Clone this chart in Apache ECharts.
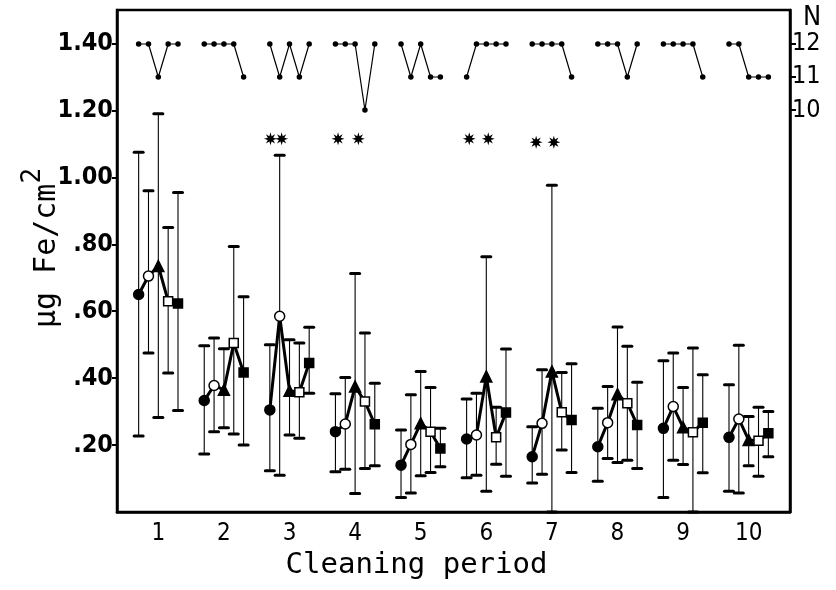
<!DOCTYPE html>
<html>
<head>
<meta charset="utf-8">
<script src="https://cdn.jsdelivr.net/npm/echarts@6/dist/echarts.min.js"></script>
<style>
html, body { margin: 0; background: #fff; }
#chart { width: 836px; height: 590px; }
</style>
</head>
<body>
<div id="chart"></div>
<script>
// cleaning periods (x axis)
const periods = [1, 2, 3, 4, 5, 6, 7, 8, 9, 10]
const yTicks = [0.2, 0.4, 0.6, 0.8, 1.0, 1.2, 1.4]
const nTicks = [10, 11, 12]

// five groups per period: filled circle, open circle, filled triangle, open square, filled square
const meanA = [0.65, 0.333, 0.305, 0.24, 0.14, 0.218, 0.165, 0.195, 0.25, 0.223]
const meanB = [0.705, 0.378, 0.585, 0.263, 0.202, 0.23, 0.265, 0.267, 0.315, 0.278]
const meanC = [0.735, 0.365, 0.362, 0.375, 0.265, 0.405, 0.42, 0.352, 0.253, 0.215]
const meanD = [0.63, 0.505, 0.358, 0.33, 0.24, 0.223, 0.298, 0.325, 0.238, 0.213]
const meanE = [0.623, 0.417, 0.445, 0.262, 0.19, 0.297, 0.275, 0.26, 0.267, 0.235]

// error bar ends
const hiA = [1.075, 0.497, 0.50, 0.353, 0.245, 0.338, 0.255, 0.31, 0.452, 0.38]
const loA = [0.227, 0.173, 0.123, 0.12, 0.043, 0.102, 0.087, 0.092, 0.043, 0.062]
const hiB = [0.96, 0.52, 1.066, 0.402, 0.35, 0.355, 0.425, 0.375, 0.475, 0.498]
const loB = [0.475, 0.24, 0.11, 0.128, 0.057, 0.11, 0.113, 0.16, 0.155, 0.057]
const hiC = [1.19, 0.488, 0.515, 0.713, 0.42, 0.763, 0.976, 0.553, 0.372, 0.285]
const loC = [0.282, 0.252, 0.23, 0.055, 0.108, 0.062, 0.0, 0.148, 0.142, 0.138]
const hiD = [0.85, 0.793, 0.505, 0.535, 0.372, 0.313, 0.417, 0.495, 0.49, 0.313]
const loD = [0.415, 0.233, 0.22, 0.13, 0.118, 0.143, 0.185, 0.155, 0.0, 0.107]
const hiE = [0.955, 0.643, 0.552, 0.385, 0.25, 0.487, 0.443, 0.388, 0.41, 0.30]
const loE = [0.303, 0.20, 0.355, 0.138, 0.135, 0.107, 0.118, 0.13, 0.117, 0.165]

// number of samples N (right axis)
const nA = [12, 12, 12, 12, 12, 11, 12, 12, 12, 12]
const nB = [12, 12, 11, 12, 11, 12, 12, 12, 12, 12]
const nC = [11, 12, 12, 12, 12, 12, 12, 12, 12, 11]
const nD = [12, 12, 11, 10, 11, 12, 12, 11, 12, 11]
const nE = [12, 11, 12, 12, 11, 12, 11, 12, 11, 11]

// significance marks (x, y)
const starX = [2.71, 2.88, 3.74, 4.05, 5.74, 6.03, 6.76, 7.03]
const starY = [1.115, 1.115, 1.115, 1.115, 1.115, 1.115, 1.105, 1.105]

const means = [meanA, meanB, meanC, meanD, meanE]
const his = [hiA, hiB, hiC, hiD, hiE]
const los = [loA, loB, loC, loD, loE]
const ns = [nA, nB, nC, nD, nE]
const offsets = [-0.3, -0.15, 0, 0.15, 0.3]

const ink = '#000'
const tickFont = "'DejaVu Sans Condensed', 'Liberation Sans Narrow', 'DejaVu Sans', sans-serif"
const wideFont = "'DejaVu Sans Mono', monospace"

// asterisk shaped symbol
function starPath () {
    let d = ''
    for (let i = 0; i < 16; i++) {
        const a = i * Math.PI / 8
        const r = i % 2 === 0 ? 10 : 4.5
        d += (i === 0 ? 'M' : 'L') + (r * Math.sin(a)).toFixed(2) + ',' + (-r * Math.cos(a)).toFixed(2)
    }
    return 'path://' + d + 'Z'
}

const chart = echarts.init(document.getElementById('chart'))
const series = []

// error bars
const errData = []
means.forEach(function (m, g) {
    periods.forEach(function (p, i) {
        errData.push([p + offsets[g], los[g][i], his[g][i]])
    })
})
series.push({
    type: 'custom',
    clip: false,
    z: 1,
    data: errData,
    encode: { x: 0, y: [1, 2] },
    renderItem: function (params, api) {
        const x = api.value(0)
        const lo = api.coord([x, api.value(1)])
        const hi = api.coord([x, api.value(2)])
        const w = 4.5
        return {
            type: 'group',
            children: [
                { type: 'line', shape: { x1: lo[0], y1: lo[1], x2: hi[0], y2: hi[1] }, style: { stroke: ink, lineWidth: 1.1 } },
                { type: 'line', shape: { x1: hi[0] - w, y1: hi[1], x2: hi[0] + w, y2: hi[1] }, style: { stroke: ink, lineWidth: 3, lineCap: 'round' } },
                { type: 'line', shape: { x1: lo[0] - w, y1: lo[1], x2: lo[0] + w, y2: lo[1] }, style: { stroke: ink, lineWidth: 3, lineCap: 'round' } }
            ]
        }
    }
})

// thick connecting line and N lines, one per period
periods.forEach(function (p, i) {
    series.push({
        type: 'line',
        z: 2,
        symbol: 'none',
        lineStyle: { color: ink, width: 3 },
        data: means.map(function (m, g) { return [p + offsets[g], m[i]] })
    })
    series.push({
        type: 'line',
        yAxisIndex: 1,
        z: 2,
        symbol: 'circle',
        symbolSize: 5.5,
        itemStyle: { color: ink },
        lineStyle: { color: ink, width: 1.2 },
        data: ns.map(function (n, g) { return [p + offsets[g], n[i]] })
    })
})

// markers
const markerStyles = [
    { symbol: 'circle', size: 10, fill: ink },
    { symbol: 'circle', size: 10, fill: '#fff' },
    { symbol: 'triangle', size: 11, fill: ink },
    { symbol: 'rect', size: 9, fill: '#fff' },
    { symbol: 'rect', size: 9, fill: ink }
]
means.forEach(function (m, g) {
    series.push({
        type: 'scatter',
        z: 3,
        symbol: markerStyles[g].symbol,
        symbolSize: markerStyles[g].size,
        itemStyle: { color: markerStyles[g].fill, borderColor: ink, borderWidth: 1.5, opacity: 1 },
        data: periods.map(function (p, i) { return [p + offsets[g], m[i]] })
    })
})

series.push({
    type: 'scatter',
    z: 3,
    symbol: starPath(),
    symbolSize: 13,
    itemStyle: { color: ink, opacity: 1 },
    data: starX.map(function (x, i) { return [x, starY[i]] })
})

const option = {
    backgroundColor: '#fff',
    animation: false,
    grid: {
        left: 117, right: 46, top: 10, bottom: 78,
        outerBoundsMode: 'none',
        show: true, borderColor: ink, borderWidth: 2.5
    },
    xAxis: {
        type: 'value',
        min: 0.37,
        max: 10.63,
        name: 'Cleaning period',
        nameLocation: 'middle',
        nameGap: 38,
        nameTextStyle: { fontFamily: wideFont, fontSize: 29, color: ink, padding: [0, 74, 0, 0] },
        axisLine: { lineStyle: { color: ink, width: 2.5 } },
        axisTick: { show: false },
        splitLine: { show: false },
        axisLabel: {
            customValues: periods,
            margin: 10,
            fontFamily: tickFont,
            fontSize: 24,
            color: ink
        }
    },
    yAxis: [{
        type: 'value',
        min: 0,
        max: 1.5,
        name: '{a|μg Fe/cm}{b|2}',
        nameLocation: 'middle',
        nameMoveOverlap: false,
        nameGap: 55,
        nameTextStyle: {
            padding: [0, 0, 0, 26],
            rich: {
                a: { fontFamily: wideFont, fontSize: 30, color: ink, verticalAlign: 'bottom' },
                b: { fontFamily: wideFont, fontSize: 26, color: ink, verticalAlign: 'bottom', padding: [0, 0, 16, 0] }
            }
        },
        axisLine: { lineStyle: { color: ink, width: 2.5 } },
        axisTick: { customValues: yTicks, length: 5, lineStyle: { color: ink, width: 2 } },
        splitLine: { show: false },
        axisLabel: {
            customValues: yTicks,
            margin: 4,
            fontFamily: tickFont,
            fontWeight: 'bold',
            fontSize: 25,
            color: ink,
            formatter: function (v) {
                return v < 1 ? '.' + Math.round(v * 100) : v.toFixed(2)
            }
        }
    }, {
        type: 'value',
        position: 'right',
        min: -2.18,
        max: 13.03,
        name: 'N',
        nameLocation: 'end',
        nameGap: -21,
        nameTextStyle: { fontFamily: tickFont, fontSize: 27, color: ink, padding: [0, 0, 0, 44] },
        axisLine: { lineStyle: { color: ink, width: 2.5 } },
        axisTick: { customValues: nTicks, length: 6, lineStyle: { color: ink, width: 2 } },
        splitLine: { show: false },
        axisLabel: {
            customValues: nTicks,
            margin: 2,
            fontFamily: tickFont,
            fontSize: 25,
            color: ink
        }
    }],
    series: series
}
chart.setOption(option)
</script>
</body>
</html>
